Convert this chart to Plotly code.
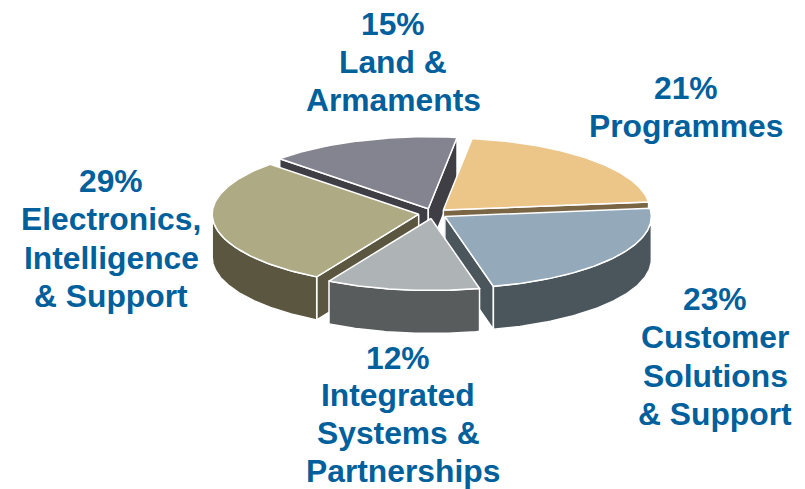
import numpy as np
import plotly.graph_objects as go

# Segment shares, listed clockwise from the first slice after the top of the pie
segments = ["Programmes", "Customer Solutions & Support", "Integrated Systems & Partnerships",
            "Electronics, Intelligence & Support", "Land & Armaments"]
shares = [21, 23, 12, 29, 15]
top_colors = ["#ecc589", "#94aaba", "#aeb3b5", "#aeaa84", "#848390"]
wall_colors = ["#7a6544", "#4a555c", "#585c5c", "#5b5640", "#3f3e45"]

label_lines = [
    ["21%", "Programmes"],
    ["23%", "Customer", "Solutions", "& Support"],
    ["12%", "Integrated", "Systems &", "Partnerships"],
    ["29%", "Electronics,", "Intelligence", "& Support"],
    ["15%", "Land &", "Armaments"],
]
label_x = [686, 715, 398, 111, 393]
label_first_y = [88, 299, 357.5, 181, 24]
label_step = [38.4, 38.4, 37.9, 38.4, 38.2]
line_nudge_x = {"Partnerships": 5}

# Projection of the tilted disc onto the page
CX, CY = 433, 213.5
RX, RY = 206.5, 72
DEPTH = 43
EXPLODE = 0.07
START_ANGLE = 8.0
TEXT_COLOR = "#00609c"
EDGE = dict(color="white", width=1.5)


def project(angle_deg, apex=(CX, CY)):
    a = np.radians(angle_deg)
    return apex[0] + RX * np.sin(a), apex[1] - RY * np.cos(a)


def polygon(name, color, xs, ys):
    return go.Scatter(x=list(xs), y=list(ys), mode="lines", fill="toself", fillcolor=color,
                      line=EDGE, name=name, hoverinfo="skip", showlegend=False)


# Angular extent and pulled-out apex of each slice
slices = {}
angle = START_ANGLE
for name, share, top, wall in zip(segments, shares, top_colors, wall_colors):
    sweep = share * 3.6
    mid = np.radians(angle + sweep / 2)
    apex = (CX + EXPLODE * RX * np.sin(mid), CY - EXPLODE * RY * np.cos(mid))
    slices[name] = dict(a0=angle, a1=angle + sweep, apex=apex, top=top, wall=wall)
    angle += sweep


def cut_face(name, s, at_angle):
    ex, ey = project(at_angle, s["apex"])
    ax, ay = s["apex"]
    return polygon(name, s["wall"], [ax, ex, ex, ax, ax], [ay, ey, ey + DEPTH, ay + DEPTH, ay])


def slice_traces(name, s):
    traces = []
    a0, a1 = s["a0"], s["a1"]
    # Cut faces that stay in view below the top surface
    for a in (a0, a1):
        ex, ey = project(a, s["apex"])
        ax, ay = s["apex"]
        mid = (a0 + a1) / 2
        mx, my = project(mid, s["apex"])
        side = (ex - ax) * (my - ay) - (ey - ay) * (mx - ax)
        facing = (ex - ax) * DEPTH
        if side * facing < 0:
            traces.append(cut_face(name, s, a))
    # Rim of the disc, only on the near half
    rim_from, rim_to = max(a0, 90), min(a1, 270)
    if rim_from < rim_to:
        rim = np.linspace(rim_from, rim_to, 90)
        rx, ry = project(rim, s["apex"])
        traces.append(polygon(name, s["wall"],
                              np.r_[rx, rx[::-1], rx[0]],
                              np.r_[ry, ry[::-1] + DEPTH, ry[0]]))
    # Top surface
    arc = np.linspace(a0, a1, 120)
    tx, ty = project(arc, s["apex"])
    traces.append(polygon(name, s["top"],
                          np.r_[s["apex"][0], tx, s["apex"][0]],
                          np.r_[s["apex"][1], ty, s["apex"][1]]))
    return traces


fig = go.Figure()
# Far slices first so nearer ones paint over them
for name in [segments[4], segments[0], segments[3], segments[1], segments[2]]:
    fig.add_traces(slice_traces(name, slices[name]))

# Each label line is placed on its own to keep the tight leading
for lines, x, y0, step in zip(label_lines, label_x, label_first_y, label_step):
    for i, line in enumerate(lines):
        fig.add_annotation(x=x + line_nudge_x.get(line, 0), y=y0 + i * step, text=line, showarrow=False,
                           xanchor="center", yanchor="middle", align="center",
                           font=dict(family="Liberation Sans", size=31.8, color=TEXT_COLOR, weight="bold"))

fig.update_layout(
    width=805, height=489, margin=dict(l=0, r=0, t=0, b=0),
    paper_bgcolor="white", plot_bgcolor="white", showlegend=False,
    xaxis=dict(range=[0, 805], visible=False, fixedrange=True),
    yaxis=dict(range=[489, 0], visible=False, fixedrange=True),
)

fig.write_html("out.html", config={"displayModeBar": False})
